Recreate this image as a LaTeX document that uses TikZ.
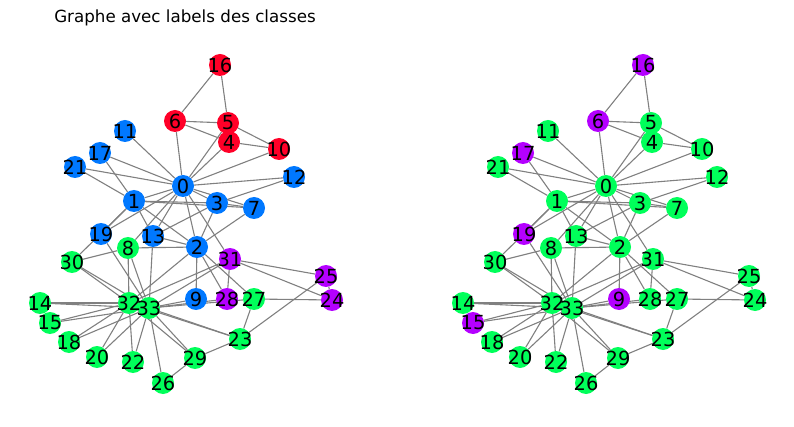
\documentclass[tikz,border=0pt]{standalone}
\usepackage{fontspec}
\setmainfont{DejaVu Sans}
\usepackage{tikz}
\usetikzlibrary{backgrounds}
\definecolor{cred}{RGB}{255,0,40}
\definecolor{cblue}{RGB}{0,120,255}
\definecolor{cgreen}{RGB}{0,255,90}
\definecolor{cpurple}{RGB}{180,0,255}
\tikzset{
  vertex/.style = {circle, inner sep=0pt, minimum size=22pt, draw=none},
  vlabel/.style = {inner sep=0pt, text=black, font=\fontsize{19.4}{20}\selectfont},
  edge/.style = {draw=gray, line width=1.1pt},
  titre/.style = {inner sep=0pt, font=\fontsize{16.7}{18}\selectfont}
}
% id / x / y / left colour / right colour
\def\karatedata{0/183/186/cblue/cgreen, 1/134/201/cblue/cgreen, 2/197/247/cblue/cgreen,
  3/217/203/cblue/cgreen, 4/229/142/cred/cgreen, 5/228/123/cred/cgreen,
  6/175/121/cred/cpurple, 7/254/208/cblue/cgreen, 8/128/248/cgreen/cgreen,
  9/196/299/cblue/cpurple, 10/279/149/cred/cgreen, 11/125/131/cblue/cgreen,
  12/294/177/cblue/cgreen, 13/153/236/cblue/cgreen, 14/40/303/cgreen/cgreen,
  15/50/323/cgreen/cpurple, 16/220/65/cred/cpurple, 17/100/153/cblue/cpurple,
  18/69/342/cgreen/cgreen, 19/101/234/cblue/cpurple, 20/97/357/cgreen/cgreen,
  21/75/167/cblue/cgreen, 22/133/362/cgreen/cgreen, 23/240/339/cgreen/cgreen,
  24/332/300/cpurple/cgreen, 25/326/276/cpurple/cgreen, 26/163/383/cgreen/cgreen,
  27/254/299/cgreen/cgreen, 28/227/299/cpurple/cgreen, 29/195/358/cgreen/cgreen,
  30/72/262/cgreen/cgreen, 31/230/259/cpurple/cgreen, 32/129/303/cgreen/cgreen,
  33/149/308/cgreen/cgreen}
\def\karateedges{0/1,0/2,0/3,0/4,0/5,0/6,0/7,0/8,0/10,0/11,0/12,0/13,0/17,0/19,0/21,0/31,
  1/2,1/3,1/7,1/13,1/17,1/19,1/21,1/30,
  2/3,2/7,2/8,2/9,2/13,2/27,2/28,2/32,
  3/7,3/12,3/13,4/6,4/10,5/6,5/10,5/16,6/16,
  8/30,8/32,8/33,9/33,13/33,14/32,14/33,15/32,15/33,18/32,18/33,19/33,
  20/32,20/33,22/32,22/33,23/25,23/27,23/29,23/32,23/33,
  24/25,24/27,24/31,25/31,26/29,26/33,27/33,28/31,28/33,
  29/32,29/33,30/32,30/33,31/32,31/33,32/33}
\begin{document}
\begin{tikzpicture}[x=1pt,y=-1pt]
  \useasboundingbox (0,0) rectangle (794,427);
  \node[titre] (titre) at (185,18) {Graphe avec labels des classes};
  % left panel: true classes, right panel: predicted classes
  \foreach \i/\x/\y/\ca/\cb in \karatedata {
    \node[vertex, fill=\ca] (a\i) at (\x,\y) {};
    \node[vertex, fill=\cb] (b\i) at ({\x+423},\y) {};
  }
  \begin{scope}[on background layer]
    \foreach \u/\v in \karateedges {
      \draw[edge] (a\u) -- (a\v);
      \draw[edge] (b\u) -- (b\v);
    }
  \end{scope}
  \foreach \i/\x/\y/\ca/\cb in \karatedata {
    \node[vlabel] (ta\i) at (a\i) {\i};
    \node[vlabel] (tb\i) at (b\i) {\i};
  }
\end{tikzpicture}
\end{document}
